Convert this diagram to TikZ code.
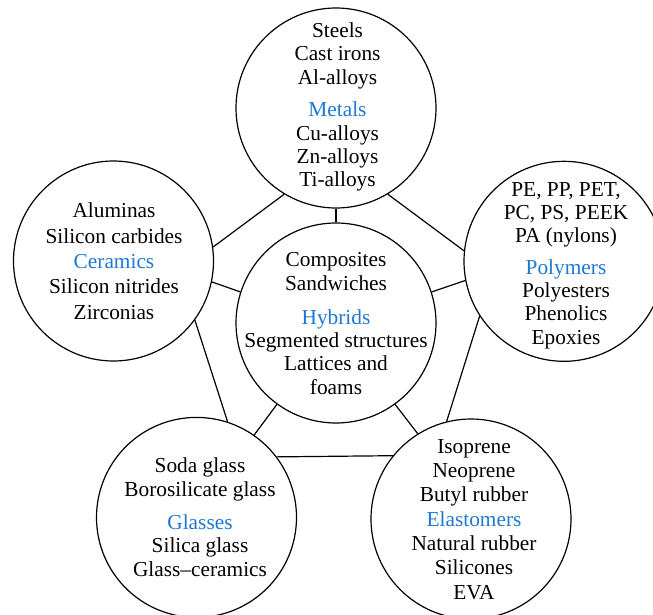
\documentclass[tikz,border=0pt]{standalone}
\usepackage{fontspec}
\setmainfont{Liberation Serif}
\definecolor{catblue}{RGB}{30,120,210}
\newcommand{\matclass}[1]{\textcolor{catblue}{#1}}

\tikzset{every picture/.style={line width=0.9pt}}
\tikzset{
  family/.style={draw, circle, minimum size=150pt, inner sep=0pt},
  members/.style={align=center, inner sep=0.75pt, font=\fontsize{16}{17.5}\selectfont}
}

\begin{document}
\begin{tikzpicture}[x=0.75pt,y=0.75pt,yscale=-1,xscale=1]
\useasboundingbox (0,0) rectangle (653,614);

%Shape: Circle
\node [family] (metals) at (336,108) {};
%Shape: Circle
\node [family] (ceramics) at (113.5,261) {};
%Shape: Circle
\node [family] (polymers) at (564,261.3) {};
%Shape: Circle
\node [family] (hybrids) at (336,323) {};
%Shape: Circle
\node [family] (glasses) at (196.5,517.4) {};
%Shape: Circle
\node [family] (elastomers) at (471,519) {};

%Straight Lines
\draw (metals.239) -- (ceramics.8);
%Straight Lines
\draw (metals.301) -- (polymers.174);
%Straight Lines
\draw (ceramics.324) -- (glasses.72);
%Straight Lines
\draw (polymers.213) -- (elastomers.104);
%Straight Lines
\draw (glasses.37.5) -- (elastomers.141.3);
%Straight Lines
\draw (metals.south) -- (hybrids.north);
%Straight Lines
\draw (ceramics.348) -- (hybrids.162);
%Straight Lines
\draw (polymers.191) -- (hybrids.18.5);
%Straight Lines
\draw (glasses.55) -- (hybrids.234);
%Straight Lines
\draw (elastomers.122) -- (hybrids.306);

% Text Node
\node [members] (metals-txt) at (337.5,107) {Steels\\Cast irons\\Al-alloys\\[7pt]\matclass{Metals}\\Cu-alloys\\Zn-alloys\\Ti-alloys};
% Text Node
\node [members] (ceramics-txt) at (114,261.2) {Aluminas\\[1.5pt]Silicon carbides\\[1.5pt]\matclass{Ceramics}\\[1.5pt]Silicon nitrides\\[1.5pt]Zirconias};
% Text Node
\node [members] (polymers-txt) at (566,265.5) {PE, PP, PET,\\PC, PS, PEEK\\PA (nylons)\\[6pt]\matclass{Polymers}\\Polyesters\\Phenolics\\Epoxies};
% Text Node
\node [members] (hybrids-txt) at (336,323.5) {Composites\\Sandwiches\\[8pt]\matclass{Hybrids}\\Segmented structures\\Lattices and\\foams};
% Text Node
\node [members] (glasses-txt) at (200,517.2) {Soda glass\\Borosilicate glass\\[7.5pt]\matclass{Glasses}\\Silica glass\\Glass--ceramics};
% Text Node
\node [members] (elastomers-txt) at (474,519.4) {Isoprene\\[0.75pt]Neoprene\\[0.75pt]Butyl rubber\\[0.75pt]\matclass{Elastomers}\\[0.75pt]Natural rubber\\[0.75pt]Silicones\\[0.75pt]EVA};

\end{tikzpicture}
\end{document}
